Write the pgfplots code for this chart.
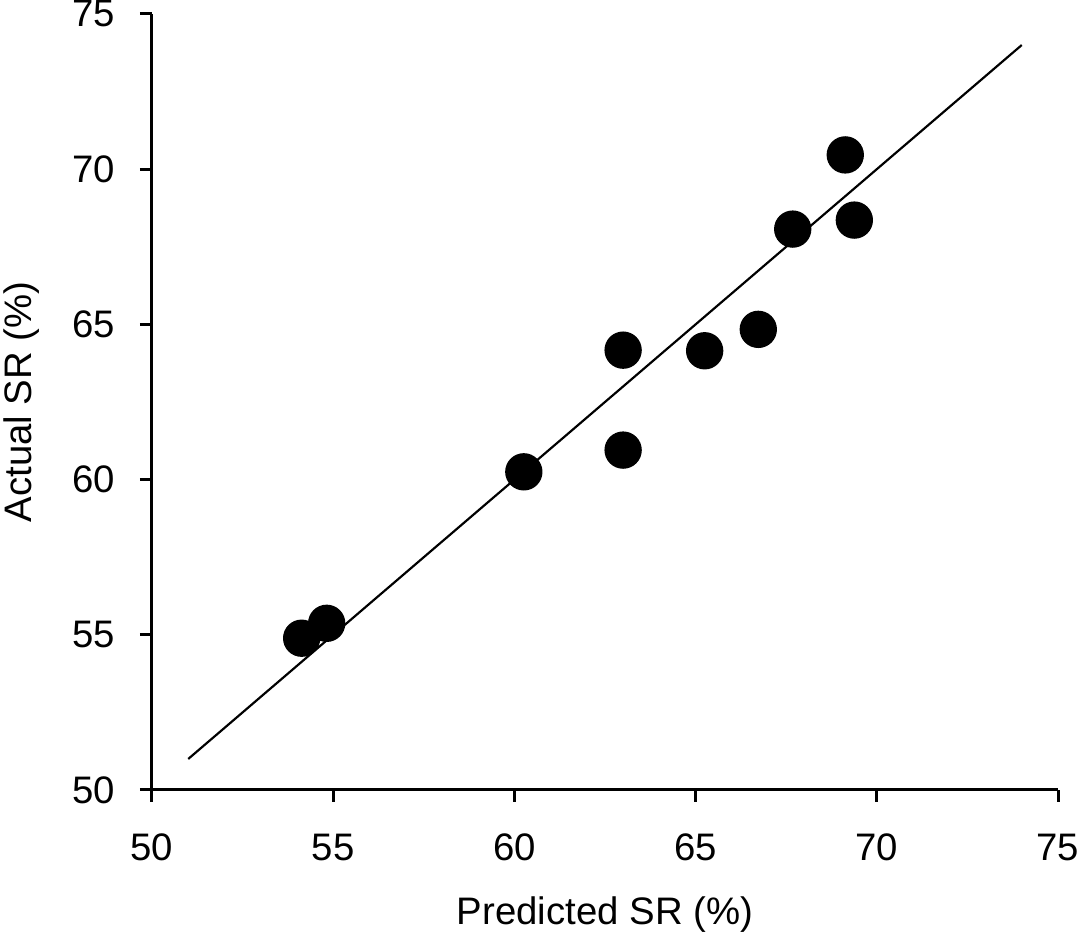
\documentclass[border=0pt]{standalone}
\usepackage{pgfplots}
\pgfplotsset{compat=1.18}
\usepackage{fontspec}
\setmainfont{Liberation Sans}
\begin{document}
\begin{tikzpicture}
\useasboundingbox (-45.6pt,-43.5pt) rectangle (280.5pt,237pt);
\begin{axis}[
  at={(0,0)}, anchor=south west,
  scale only axis,
  width=271.8pt, height=232.8pt,
  xmin=50, xmax=75, ymin=50, ymax=75,
  xtick={50,55,...,75}, ytick={50,55,...,75},
  axis x line*=bottom, axis y line*=left,
  tick align=outside, major tick length=3.6pt,
  axis line style={line width=0.9pt},
  every tick/.style={black, line width=0.9pt},
  /pgf/number format/assume math mode=true,
  tick label style={font=\fontsize{11.5}{13.5}\selectfont},
  label style={font=\fontsize{11.5}{13.5}\selectfont},
  xticklabel style={yshift=-6pt},
  yticklabel style={xshift=-4pt},
  xlabel={Predicted SR (\%)},
  ylabel={Actual SR (\%)},
  xlabel style={yshift=-4pt},
  ylabel style={yshift=3pt},
  clip=false,
]
\addplot[black, line width=0.65pt] coordinates {(51,51) (74,74)};
\addplot[only marks, mark=*, mark size=5.4pt, black, mark options={fill=black}] coordinates {
(54.13,54.89) (54.82,55.37) (60.26,60.25) (63.0,64.17) (63.0,60.95)
(65.25,64.15) (66.73,64.84) (67.68,68.07) (69.13,70.46) (69.38,68.36)
};
\end{axis}
\end{tikzpicture}
\end{document}
